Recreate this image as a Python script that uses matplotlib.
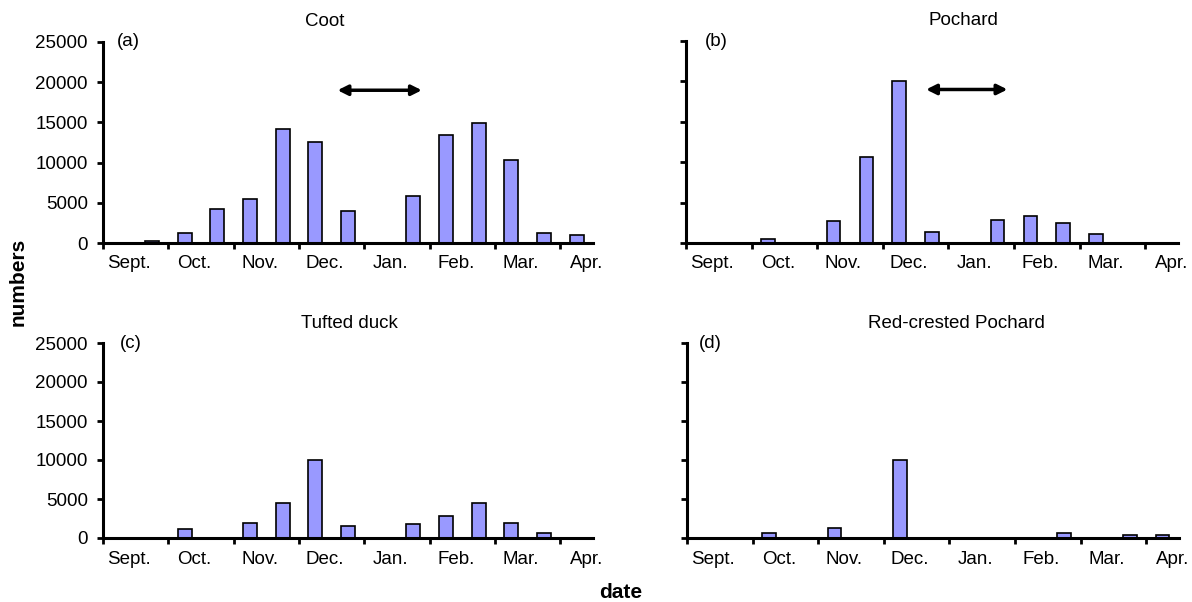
import matplotlib
matplotlib.use("Agg")
import matplotlib.pyplot as plt

plt.rcParams["font.family"] = ["Liberation Sans", "DejaVu Sans"]

# half-month counts, positions in months from 1 Sept.
positions = [0.25, 0.75, 1.25, 1.75, 2.25, 2.75, 3.25, 3.75,
             4.25, 4.75, 5.25, 5.75, 6.25, 6.75, 7.25]
months = ["Sept.", "Oct.", "Nov.", "Dec.", "Jan.", "Feb.", "Mar.", "Apr."]

coot = [0, 200, 1250, 4200, 5450, 14150, 12600, 3950,
        0, 5850, 13450, 14950, 10300, 1250, 1050]
pochard = [0, 0, 550, 0, 2700, 10650, 20000, 1400,
           0, 2900, 3300, 2450, 1150, 0, 0]
tufted = [0, 0, 1100, 0, 1950, 4550, 10000, 1550,
          0, 1750, 2850, 4550, 1950, 650, 0]
redcrested = [0, 0, 650, 0, 1280, 0, 10000, 0,
              0, 0, 0, 650, 0, 430, 430]

panels = [
    ("Coot", "(a)", coot, [103, 243, 490, 201], 0.453, 0.051, (3.59, 4.88)),
    ("Pochard", "(b)", pochard, [686, 243, 492, 202], 0.563, 0.061, (3.66, 4.90)),
    ("Tufted duck", "(c)", tufted, [103, 538, 490, 195], 0.502, 0.057, None),
    ("Red-crested Pochard", "(d)", redcrested, [687, 538, 492, 195], 0.547, 0.047, None),
]

W, H = 1192, 602
fig = plt.figure(figsize=(W / 100, H / 100), dpi=100)
fs = 13.5

for i, (title, tag, vals, box, tx, lx, arrow) in enumerate(panels):
    left, bottom, width, height = box
    ax = fig.add_axes([left / W, (H - bottom) / H, width / W, height / H])
    ax.bar(positions, vals, width=0.21, color="#9999ff",
           edgecolor="black", linewidth=1.2, zorder=2)
    ax.set_xlim(0, 7.5)
    ax.set_ylim(0, 25000)
    ax.set_yticks([0, 5000, 10000, 15000, 20000, 25000])
    ax.set_xticks(range(8))
    ax.set_xticklabels([])
    for k, m in enumerate(months):
        ax.annotate(m, xy=(k + 0.4, 0), xycoords=("data", "axes fraction"),
                    xytext=(0, -9), textcoords="offset points",
                    ha="center", va="top", fontsize=fs)
    for side in ["top", "right"]:
        ax.spines[side].set_visible(False)
    for side in ["left", "bottom"]:
        ax.spines[side].set_linewidth(2.2)
    ax.tick_params(axis="both", direction="out", length=4, width=2.0,
                   labelsize=fs)
    ax.tick_params(axis="y", pad=7)
    if i % 2 == 1:
        ax.set_yticklabels([])
    ax.text(tx, 1.10, title, transform=ax.transAxes, ha="center",
            va="center", fontsize=fs)
    ax.text(lx, 1.0, tag, transform=ax.transAxes, ha="center",
            va="center", fontsize=fs)
    if arrow is not None:
        ax.annotate("", xy=(arrow[1], 19000), xytext=(arrow[0], 19000),
                    arrowprops=dict(arrowstyle="<|-|>,head_length=0.6,head_width=0.3",
                                    color="black", lw=2.5,
                                    shrinkA=0, shrinkB=0))

fig.text(18 / W, 1 - 282 / H, "numbers", rotation=90, ha="center",
         va="center", fontsize=15, fontweight="bold")
fig.text(621 / W, 1 - 593 / H, "date", ha="center", va="center",
         fontsize=15, fontweight="bold")

fig.savefig("out.png", dpi=100)
